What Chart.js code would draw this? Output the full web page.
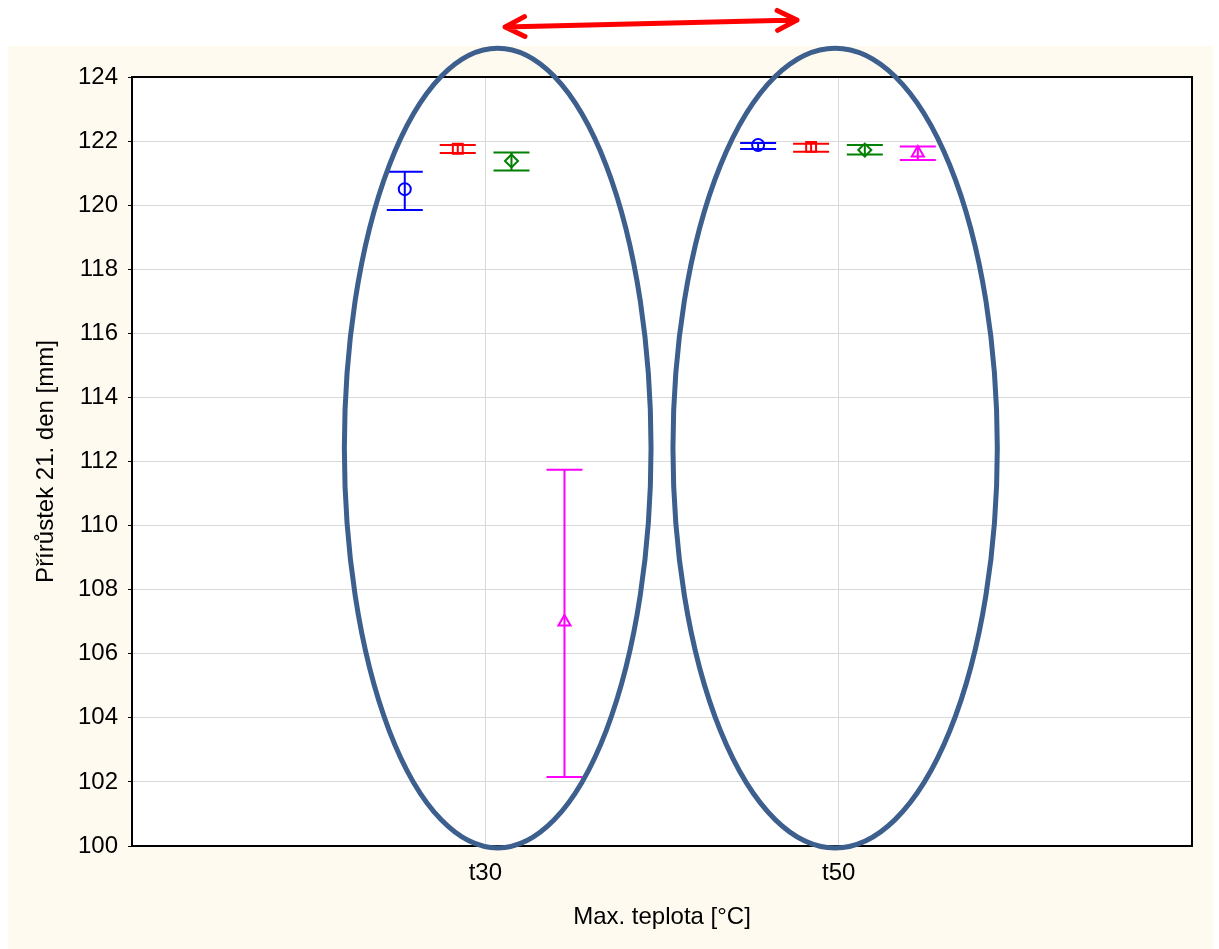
<!DOCTYPE html>
<html>
<head>
<meta charset="utf-8">
<script src="https://cdn.jsdelivr.net/npm/chart.js@4.4.1/dist/chart.umd.min.js"></script>
<style>
    html, body { margin: 0; padding: 0; background: #ffffff; }
    #wrap { width: 1219px; height: 949px; }
</style>
</head>
<body>
<div id="wrap"><canvas id="chart" width="1219" height="949"></canvas></div>
<script>
// categories on the x axis (placed at positions 1 and 2 of a 0..3 axis)
const categories = ['t30', 't50'];
const yTicks = [100, 102, 104, 106, 108, 110, 112, 114, 116, 118, 120, 122, 124];

// mean with lower / upper error bar for each series
const blueMean = [120.5, 121.88];
const blueLow = [119.85, 121.75];
const blueHigh = [121.04, 121.94];

const redMean = [121.76, 121.82];
const redLow = [121.63, 121.67];
const redHigh = [121.88, 121.92];

const greenMean = [121.38, 121.72];
const greenLow = [121.08, 121.58];
const greenHigh = [121.64, 121.88];

const magentaMean = [106.99, 121.63];
const magentaLow = [102.15, 121.41];
const magentaHigh = [111.74, 121.83];

const FONT = "'Liberation Sans', Arial, sans-serif";
const CREAM = '#FFFAF0';

const seriesDefs = [
    { color: '#0000FF', style: 'circle', radius: 6, offset: -0.228, mean: blueMean, low: blueLow, high: blueHigh },
    { color: '#FF0000', style: 'rect', radius: 7, offset: -0.078, mean: redMean, low: redLow, high: redHigh },
    { color: '#008000', style: 'rectRot', radius: 6.5, offset: 0.074, mean: greenMean, low: greenLow, high: greenHigh },
    { color: '#FF00FF', style: 'triangle', radius: 7, offset: 0.224, mean: magentaMean, low: magentaLow, high: magentaHigh }
];

const datasets = seriesDefs.map(s => ({
    data: categories.map((c, i) => ({ x: i + 1 + s.offset, y: s.mean[i] })),
    low: s.low,
    high: s.high,
    borderColor: s.color,
    backgroundColor: 'transparent',
    pointStyle: s.style,
    pointRadius: s.radius,
    pointBorderWidth: 2,
    showLine: false
}));

// highlight ellipses (data units) and the arrow between them
const ellipses = [
    { cx: 1.035, cy: 112.42, rx: 0.434, ry: 12.48 },
    { cx: 1.99, cy: 112.42, rx: 0.459, ry: 12.48 }
];
const arrow = { x1: 1.056, y1: 125.56, x2: 1.882, y2: 125.78 };

const decorPlugin = {
    id: 'decor',
    beforeDraw(chart) {
        const { ctx, chartArea: a } = chart;
        ctx.save();
        ctx.fillStyle = CREAM;
        ctx.fillRect(8, 46, 1205, 903);
        ctx.fillStyle = '#ffffff';
        ctx.fillRect(a.left, a.top, a.right - a.left, a.bottom - a.top);
        ctx.restore();
    },
    beforeDatasetsDraw(chart) {
        const { ctx, chartArea: a, scales: { x, y } } = chart;
        ctx.save();
        // top and right frame
        ctx.strokeStyle = '#000';
        ctx.lineWidth = 2;
        ctx.beginPath();
        ctx.moveTo(a.left, a.top);
        ctx.lineTo(a.right, a.top);
        ctx.lineTo(a.right, a.bottom);
        ctx.stroke();
        // error bars
        chart.data.datasets.forEach(ds => {
            ctx.strokeStyle = ds.borderColor;
            ctx.lineWidth = 2;
            ds.data.forEach((p, i) => {
                const px = x.getPixelForValue(p.x);
                const yl = y.getPixelForValue(ds.low[i]);
                const yh = y.getPixelForValue(ds.high[i]);
                const cap = 18;
                ctx.beginPath();
                ctx.moveTo(px, yl);
                ctx.lineTo(px, yh);
                ctx.moveTo(px - cap, yl);
                ctx.lineTo(px + cap, yl);
                ctx.moveTo(px - cap, yh);
                ctx.lineTo(px + cap, yh);
                ctx.stroke();
            });
        });
        ctx.restore();
    },
    afterDraw(chart) {
        const { ctx, scales: { x, y } } = chart;
        ctx.save();
        ctx.strokeStyle = '#3C5F8D';
        ctx.lineWidth = 5;
        ellipses.forEach(e => {
            const cx = x.getPixelForValue(e.cx);
            const cy = y.getPixelForValue(e.cy);
            const rx = x.getPixelForValue(e.cx + e.rx) - cx;
            const ry = cy - y.getPixelForValue(e.cy + e.ry);
            ctx.beginPath();
            ctx.ellipse(cx, cy, rx, ry, 0, 0, Math.PI * 2);
            ctx.stroke();
        });
        // double-headed arrow
        const x1 = x.getPixelForValue(arrow.x1), y1 = y.getPixelForValue(arrow.y1);
        const x2 = x.getPixelForValue(arrow.x2), y2 = y.getPixelForValue(arrow.y2);
        const ang = Math.atan2(y2 - y1, x2 - x1);
        const head = 22, spread = 0.47;
        ctx.strokeStyle = '#FF0000';
        ctx.lineWidth = 5;
        ctx.lineCap = 'round';
        ctx.lineJoin = 'round';
        ctx.beginPath();
        ctx.moveTo(x1, y1);
        ctx.lineTo(x2, y2);
        ctx.moveTo(x2 - head * Math.cos(ang - spread), y2 - head * Math.sin(ang - spread));
        ctx.lineTo(x2, y2);
        ctx.lineTo(x2 - head * Math.cos(ang + spread), y2 - head * Math.sin(ang + spread));
        ctx.moveTo(x1 + head * Math.cos(ang - spread), y1 + head * Math.sin(ang - spread));
        ctx.lineTo(x1, y1);
        ctx.lineTo(x1 + head * Math.cos(ang + spread), y1 + head * Math.sin(ang + spread));
        ctx.stroke();
        ctx.restore();
    }
};

Chart.defaults.font.family = FONT;
Chart.defaults.color = '#000';

new Chart(document.getElementById('chart').getContext('2d'), {
    type: 'scatter',
    data: { datasets: datasets },
    options: {
        responsive: false,
        animation: false,
        layout: { padding: { left: 20, right: 27, top: 77, bottom: 0 } },
        plugins: {
            legend: { display: false },
            tooltip: { enabled: false }
        },
        scales: {
            x: {
                type: 'linear',
                min: 0,
                max: 3,
                afterFit: s => { s.height = 103; },
                afterBuildTicks: s => { s.ticks = [0, 1, 2, 3].map(v => ({ value: v })); },
                ticks: {
                    padding: 13,
                    font: { size: 24 },
                    color: '#000',
                    maxRotation: 0,
                    callback: v => (v >= 1 && v <= categories.length) ? categories[v - 1] : ''
                },
                grid: {
                    drawTicks: false,
                    color: c => (c.tick && (c.tick.value === 1 || c.tick.value === 2)) ? '#D9D9D9' : 'transparent'
                },
                border: { color: '#000', width: 2 },
                title: {
                    display: true,
                    text: 'Max. teplota [°C]',
                    font: { size: 24 },
                    color: '#000',
                    padding: { top: 0, bottom: 17 }
                }
            },
            y: {
                min: 100,
                max: 124,
                afterFit: s => { s.width = 112; },
                afterBuildTicks: s => { s.ticks = yTicks.map(v => ({ value: v })); },
                ticks: {
                    padding: 10,
                    font: { size: 24 },
                    color: '#000'
                },
                grid: {
                    color: '#D9D9D9',
                    tickColor: '#000',
                    tickLength: 4,
                    tickWidth: 1
                },
                border: { color: '#000', width: 2 },
                title: {
                    display: true,
                    text: 'Přírůstek 21. den [mm]',
                    font: { size: 24 },
                    color: '#000',
                    padding: { top: 12, bottom: 0 }
                }
            }
        }
    },
    plugins: [decorPlugin]
});
</script>
</body>
</html>
